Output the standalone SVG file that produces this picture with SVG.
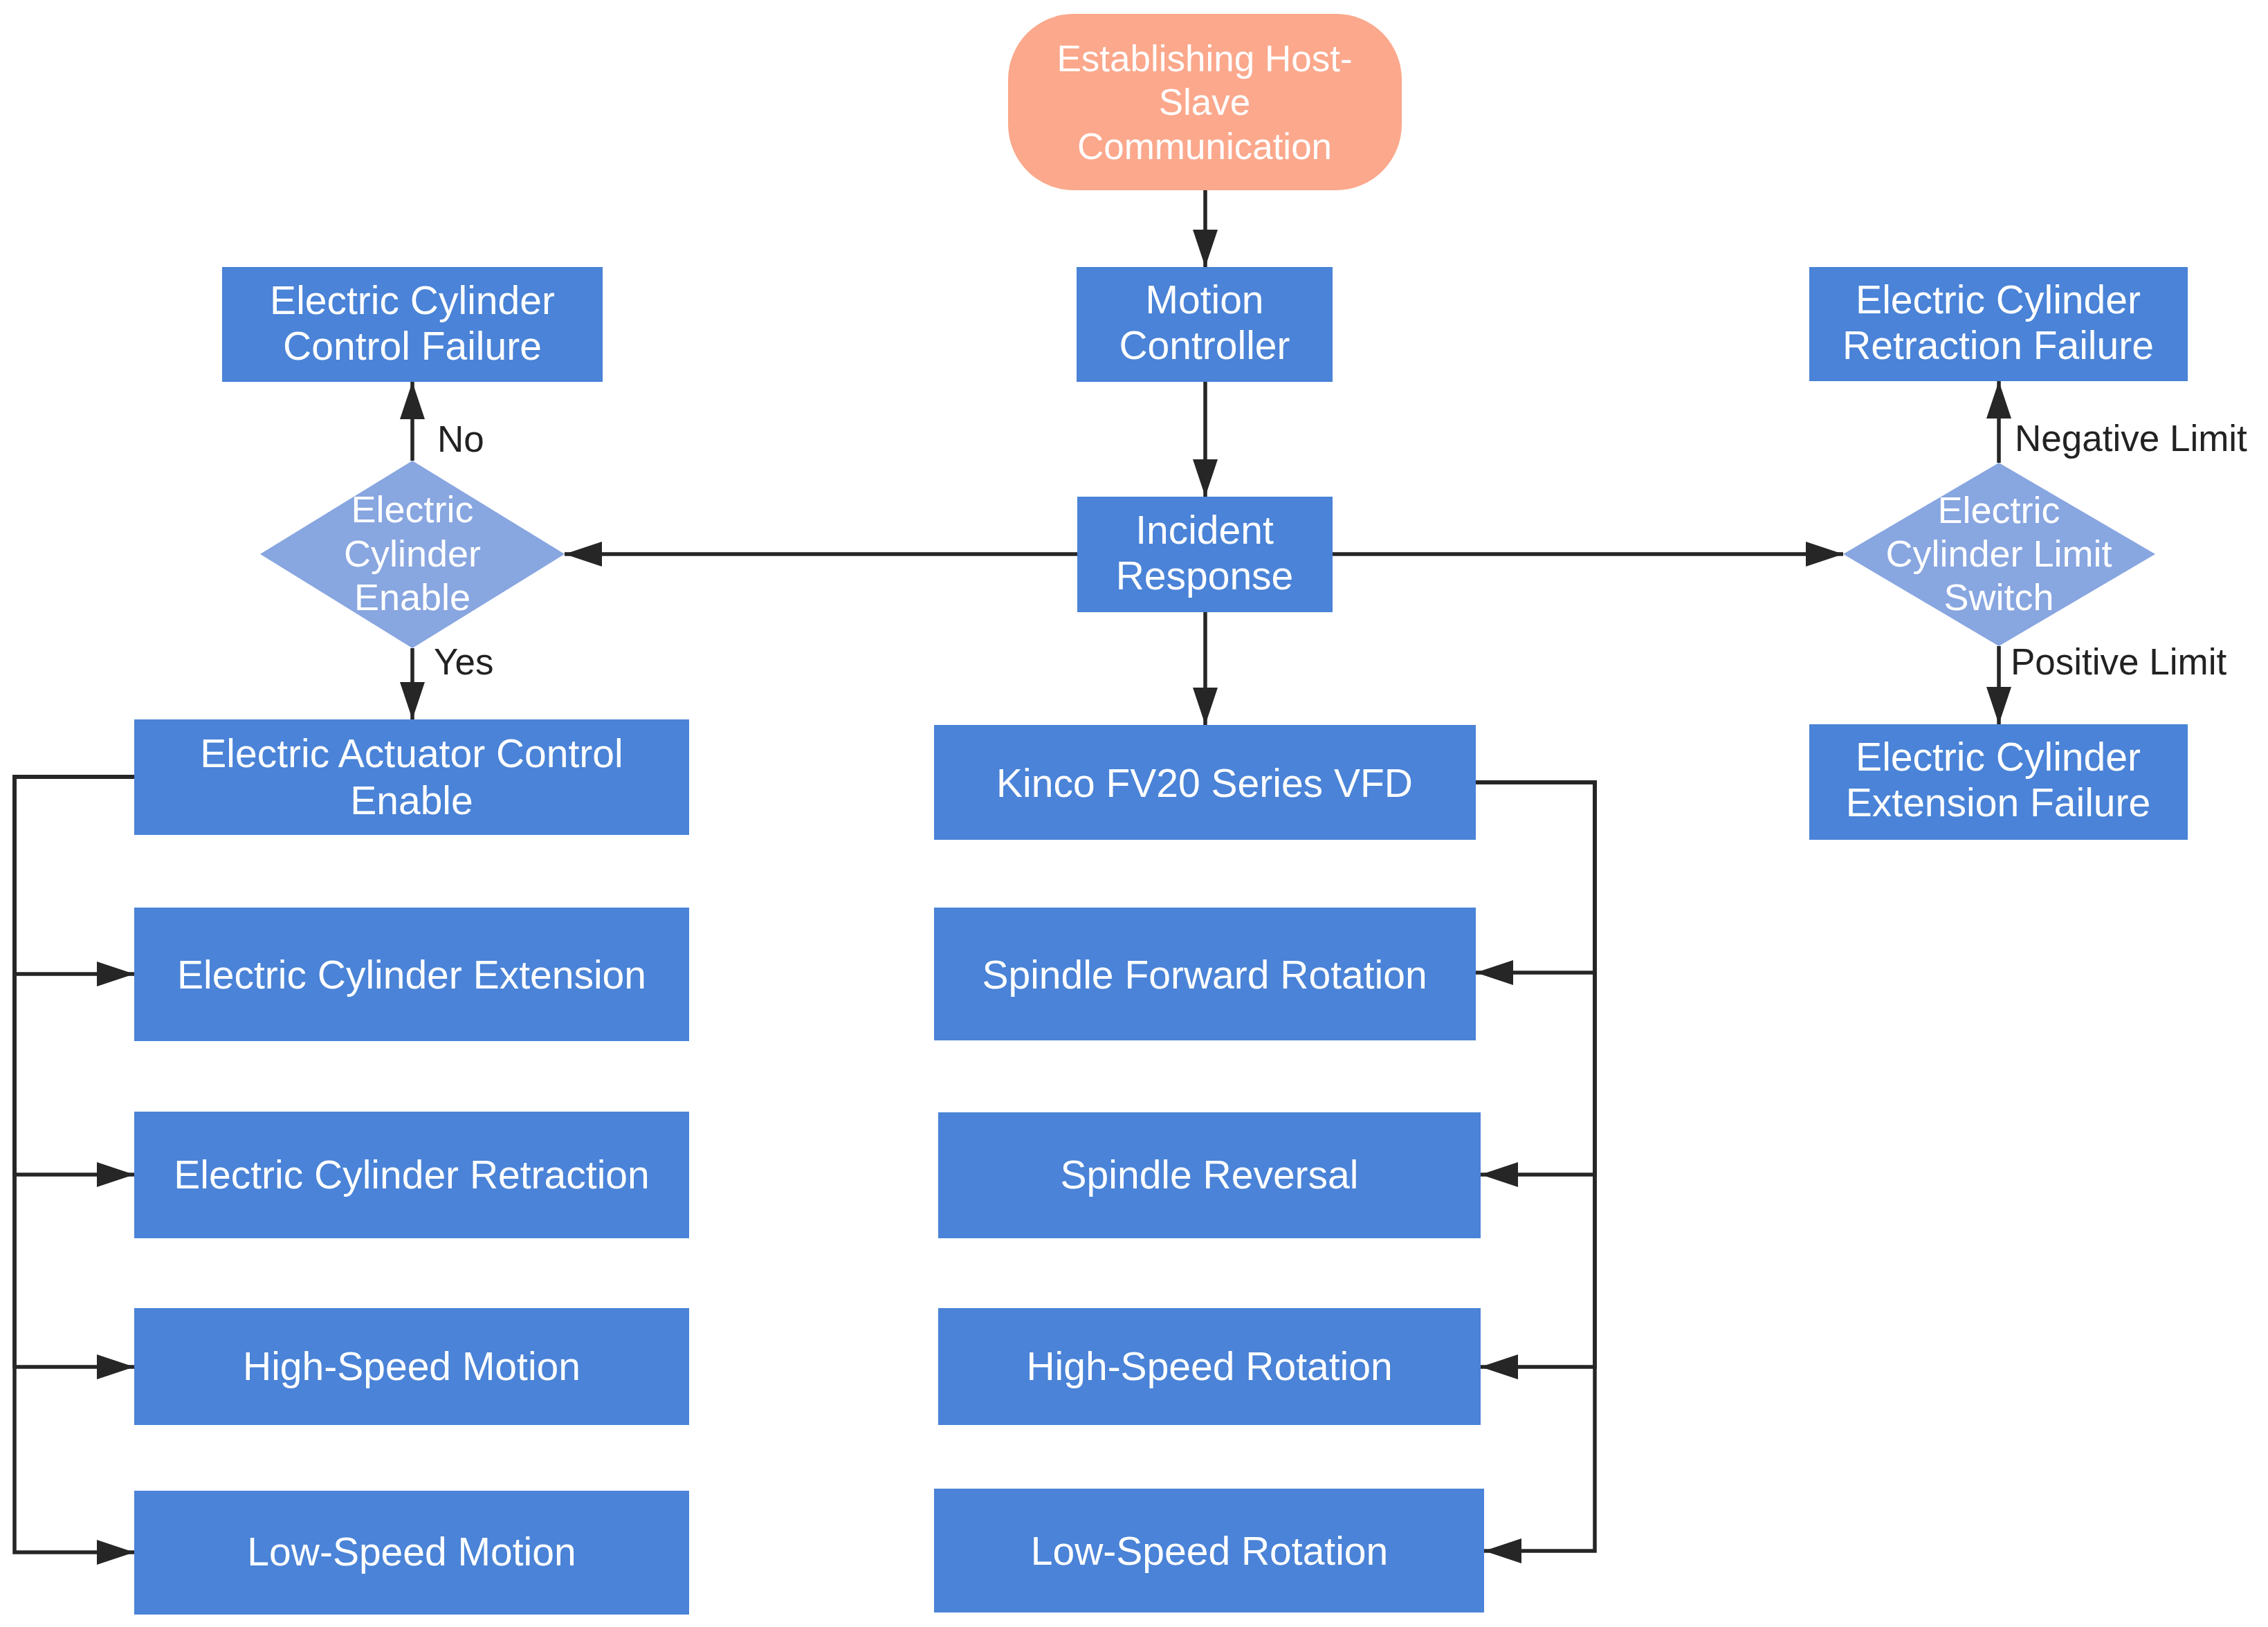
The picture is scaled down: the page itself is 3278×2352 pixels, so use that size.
<svg xmlns="http://www.w3.org/2000/svg" width="3278" height="2352" viewBox="0 0 3278 2352">
<style>
.box{fill:#4A83D7;}
.dia{fill:#88A6E0;}
.term{fill:#FBA88C;}
.t{font-family:"Liberation Sans",Arial,sans-serif;font-size:57px;fill:#FFFFFF;text-anchor:middle;}
.td{font-family:"Liberation Sans",Arial,sans-serif;font-size:54px;fill:#FFFFFF;text-anchor:middle;}
.tt{font-family:"Liberation Sans",Arial,sans-serif;font-size:53px;fill:#FFFFFF;text-anchor:middle;}
.lbl{font-family:"Liberation Sans",Arial,sans-serif;font-size:53px;fill:#222222;}
.c{fill:none;stroke:#262626;stroke-width:5.5;marker-end:url(#ah);}
</style>
<defs>
<marker id="ah" markerUnits="userSpaceOnUse" markerWidth="56" markerHeight="38" refX="54" refY="18" orient="auto">
<path d="M0,0 L54,18 L0,36 Z" fill="#262626"/>
</marker>
</defs>
<rect width="3278" height="2352" fill="#FFFFFF"/>
<g id="connectors">
<path class="c" d="M1742,275 V386"/>
<path class="c" d="M1742,552 V718"/>
<path class="c" d="M1742,885 V1048"/>
<path class="c" d="M1557,801 H816"/>
<path class="c" d="M1926,801 H2664"/>
<path class="c" d="M596,666 V552"/>
<path class="c" d="M596,937 V1040"/>
<path class="c" d="M2889,669 V551"/>
<path class="c" d="M2889,934 V1047"/>
<path class="c" d="M194,1123 H21 V1408 H194"/>
<path class="c" d="M194,1123 H21 V1698 H194"/>
<path class="c" d="M194,1123 H21 V1976 H194"/>
<path class="c" d="M194,1123 H21 V2244 H194"/>
<path class="c" d="M2133,1131 H2305 V1406 H2133"/>
<path class="c" d="M2133,1131 H2305 V1698 H2140"/>
<path class="c" d="M2133,1131 H2305 V1976 H2140"/>
<path class="c" d="M2133,1131 H2305 V2242 H2145"/>
<text class="lbl" x="632" y="653">No</text>
<text class="lbl" x="627" y="975">Yes</text>
<text class="lbl" x="2912" y="652">Negative Limit</text>
<text class="lbl" x="2906" y="975">Positive Limit</text>
</g>
<g id="start">
<rect class="term" x="1457" y="20" width="569" height="255" rx="95" ry="95"/>
<text class="tt" x="1741" y="103">Establishing Host-</text>
<text class="tt" x="1741" y="166">Slave</text>
<text class="tt" x="1741" y="230">Communication</text>
</g>
<g id="motion">
<rect class="box" x="1556" y="386" width="370" height="166"/>
<text class="t" x="1741" y="453">Motion</text>
<text class="t" x="1741" y="519">Controller</text>
</g>
<g id="incident">
<rect class="box" x="1557" y="718" width="369" height="167"/>
<text class="t" x="1741" y="786">Incident</text>
<text class="t" x="1741" y="852">Response</text>
</g>
<g id="kinco">
<rect class="box" x="1350" y="1048" width="783" height="166"/>
<text class="t" x="1741" y="1152">Kinco FV20 Series VFD</text>
</g>
<g id="spindle-forward">
<rect class="box" x="1350" y="1312" width="783" height="192"/>
<text class="t" x="1741" y="1429">Spindle Forward Rotation</text>
</g>
<g id="spindle-reversal">
<rect class="box" x="1356" y="1608" width="784" height="182"/>
<text class="t" x="1748" y="1718">Spindle Reversal</text>
</g>
<g id="high-speed-rotation">
<rect class="box" x="1356" y="1891" width="784" height="169"/>
<text class="t" x="1748" y="1995">High-Speed Rotation</text>
</g>
<g id="low-speed-rotation">
<rect class="box" x="1350" y="2152" width="795" height="179"/>
<text class="t" x="1748" y="2262">Low-Speed Rotation</text>
</g>
<g id="control-failure">
<rect class="box" x="321" y="386" width="550" height="166"/>
<text class="t" x="596" y="454">Electric Cylinder</text>
<text class="t" x="596" y="520">Control Failure</text>
</g>
<g id="enable-decision">
<polygon class="dia" points="596,666 816,801 596,937 376,801"/>
<text class="td" x="596" y="755">Electric</text>
<text class="td" x="596" y="819">Cylinder</text>
<text class="td" x="596" y="882">Enable</text>
</g>
<g id="actuator-enable">
<rect class="box" x="194" y="1040" width="802" height="167"/>
<text class="t" x="595" y="1109">Electric Actuator Control</text>
<text class="t" x="595" y="1177">Enable</text>
</g>
<g id="extension">
<rect class="box" x="194" y="1312" width="802" height="193"/>
<text class="t" x="595" y="1429">Electric Cylinder Extension</text>
</g>
<g id="retraction">
<rect class="box" x="194" y="1607" width="802" height="183"/>
<text class="t" x="595" y="1718">Electric Cylinder Retraction</text>
</g>
<g id="high-speed-motion">
<rect class="box" x="194" y="1891" width="802" height="169"/>
<text class="t" x="595" y="1995">High-Speed Motion</text>
</g>
<g id="low-speed-motion">
<rect class="box" x="194" y="2155" width="802" height="179"/>
<text class="t" x="595" y="2263">Low-Speed Motion</text>
</g>
<g id="retraction-failure">
<rect class="box" x="2615" y="386" width="547" height="165"/>
<text class="t" x="2888" y="453">Electric Cylinder</text>
<text class="t" x="2888" y="519">Retraction Failure</text>
</g>
<g id="limit-decision">
<polygon class="dia" points="2889,669 3115,801 2889,934 2664,801"/>
<text class="td" x="2889" y="756">Electric</text>
<text class="td" x="2889" y="819">Cylinder Limit</text>
<text class="td" x="2889" y="882">Switch</text>
</g>
<g id="extension-failure">
<rect class="box" x="2615" y="1047" width="547" height="167"/>
<text class="t" x="2888" y="1114">Electric Cylinder</text>
<text class="t" x="2888" y="1180">Extension Failure</text>
</g>
</svg>
